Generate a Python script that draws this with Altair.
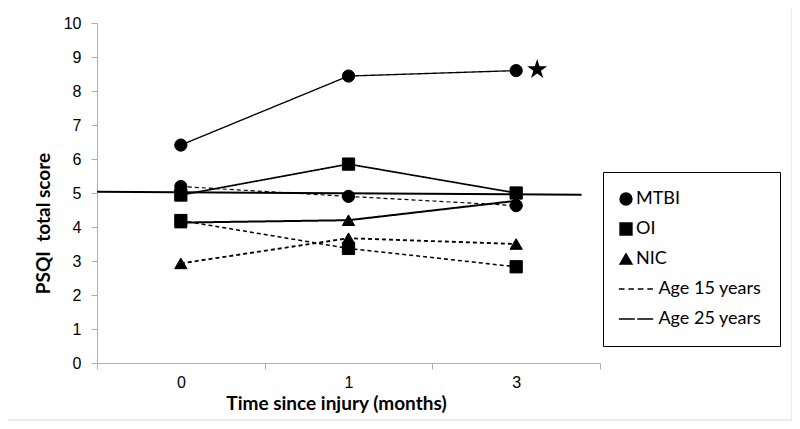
import altair as alt
import pandas as pd

# ---- data ----
months = ["0", "1", "3"]
mtbi_15 = [5.19, 4.90, 4.63]
mtbi_25 = [6.41, 8.44, 8.60]
oi_15 = [4.19, 3.37, 2.83]
oi_25 = [4.94, 5.85, 5.00]
nic_15 = [2.93, 3.67, 3.50]
nic_25 = [4.13, 4.20, 4.77]
ref_pos = [-0.5, 2.39]
ref_value = [5.04, 4.95]
group_labels = ["MTBI", "OI", "NIC"]
age_labels = ["Age 15 years", "Age 25 years"]

series = {
    ("MTBI", "15"): mtbi_15,
    ("MTBI", "25"): mtbi_25,
    ("OI", "15"): oi_15,
    ("OI", "25"): oi_25,
    ("NIC", "15"): nic_15,
    ("NIC", "25"): nic_25,
}
rows = []
for (g, a), vals in series.items():
    for i, (m, v) in enumerate(zip(months, vals)):
        rows.append({"pos": i, "month": m, "group": g, "age": a,
                     "series": f"{g} {a}", "value": v})
df = pd.DataFrame(rows)
ref_df = pd.DataFrame({"pos": ref_pos, "value": ref_value})
star_df = pd.DataFrame({"pos": [months.index("3")], "value": [mtbi_25[2]]})

# ---- styles ----
NB = "\u00a0"
PAD = "\u200b" + NB * 5
legend_domain = group_labels + [PAD + a for a in age_labels]
DASHED = "M-1.2,0H-0.25M0.4,0H1.35M2.0,0H2.95M3.6,0H4.55"
SOLID = "M-1.2,0H1.5M1.9,0H4.6"
STAR = ("M0,-1L0.225,-0.309L0.951,-0.309L0.363,0.118L0.588,0.809L0,0.382"
        "L-0.588,0.809L-0.363,0.118L-0.951,-0.309L-0.225,-0.309Z")

label_cases = " : ".join(
    f"datum.value == {i} ? '{m}'" for i, m in enumerate(months)
) + " : ''"

x_enc = alt.X(
    "pos:Q",
    scale=alt.Scale(domain=[-0.5, 2.5], nice=False, zero=False),
    axis=alt.Axis(
        values=[-0.5, 0, 0.5, 1, 1.5, 2, 2.5],
        labelExpr=label_cases,
        tickOpacity={"condition": {"test": "datum.value % 1 == 0", "value": 0}, "value": 1},
        labelOverlap=False,
        labelFlush=False,
        labelPadding=5,
        title="Time since injury (months)",
        titleX=239,
        titleY=46,
        titleBaseline="alphabetic",
    ),
)
y_enc = alt.Y(
    "value:Q",
    scale=alt.Scale(domain=[0, 10], nice=False),
    axis=alt.Axis(
        values=list(range(11)),
        labelPadding=10,
        title="PSQI" + NB + NB + "total score",
        titleX=-48,
        titleY=200,
        titleBaseline="alphabetic",
    ),
)

border = alt.Chart(alt.Data(values=[{}])).mark_rect(
    fill="transparent", stroke="#d9d9d9", strokeWidth=1
).encode(x=alt.value(-90), x2=alt.value(695), y=alt.value(-16), y2=alt.value(397))

ref_line = alt.Chart(ref_df).mark_line(color="black", strokeWidth=2).encode(
    x=x_enc, y=y_enc
)

lines = alt.Chart(df).mark_line(color="black").encode(
    x=x_enc,
    y=y_enc,
    detail="series:N",
    strokeDash=alt.StrokeDash(
        "age:N", scale=alt.Scale(domain=["15", "25"], range=[[4, 3], [1, 0]]), legend=None
    ),
    strokeWidth=alt.StrokeWidth(
        "series:N",
        scale=alt.Scale(
            domain=["MTBI 15", "MTBI 25", "OI 15", "OI 25", "NIC 15", "NIC 25"],
            range=[1.2, 2, 1.2, 1.4, 1.2, 2],
        ),
        legend=None,
    ),
)

legend = alt.Legend(
    title=None,
    orient="none",
    legendX=506,
    legendY=149,
    symbolSize=140,
    symbolStrokeWidth=1.5,
    symbolOffset=-4,
    labelFont="Lato",
    labelFontSize=18,
    labelColor="black",
    labelOffset=1,
    rowPadding=12,
    padding=18,
    strokeColor="black",
)

points = alt.Chart(df).mark_point(
    filled=True, opacity=1, size=150, strokeWidth=1
).encode(
    x=x_enc,
    y=y_enc,
    shape=alt.Shape(
        "group:N",
        scale=alt.Scale(
            domain=legend_domain,
            range=["circle", "square", "triangle-up", DASHED, SOLID],
        ),
        legend=legend,
    ),
    fill=alt.Fill(
        "group:N",
        scale=alt.Scale(
            domain=legend_domain,
            range=["black", "black", "black", "transparent", "transparent"],
        ),
        legend=legend,
    ),
    stroke=alt.Stroke(
        "group:N",
        scale=alt.Scale(
            domain=legend_domain,
            range=["black", "black", "black", "black", "black"],
        ),
        legend=legend,
    ),
)

star = alt.Chart(star_df).mark_point(
    shape=STAR, size=440, filled=True, color="black", opacity=1, xOffset=21, yOffset=-1
).encode(x=x_enc, y=y_enc)

chart = (
    alt.layer(border, ref_line, lines, points, star)
    .properties(
        width=503,
        height=340,
        autosize=alt.AutoSizeParams(type="none"),
        padding={"left": 89, "top": 15, "right": 192, "bottom": 58},
    )
    .configure_view(stroke=None)
    .configure_axis(
        grid=False,
        domainColor="#b0b0b0",
        tickColor="#b0b0b0",
        tickSize=6,
        labelFont="Liberation Sans",
        labelFontSize=16,
        labelColor="black",
        titleFont="Lato",
        titleFontWeight="bold",
        titleFontSize=19,
        titleColor="black",
    )
)

chart.save("out.html", embed_options={"renderer": "svg", "actions": False})
